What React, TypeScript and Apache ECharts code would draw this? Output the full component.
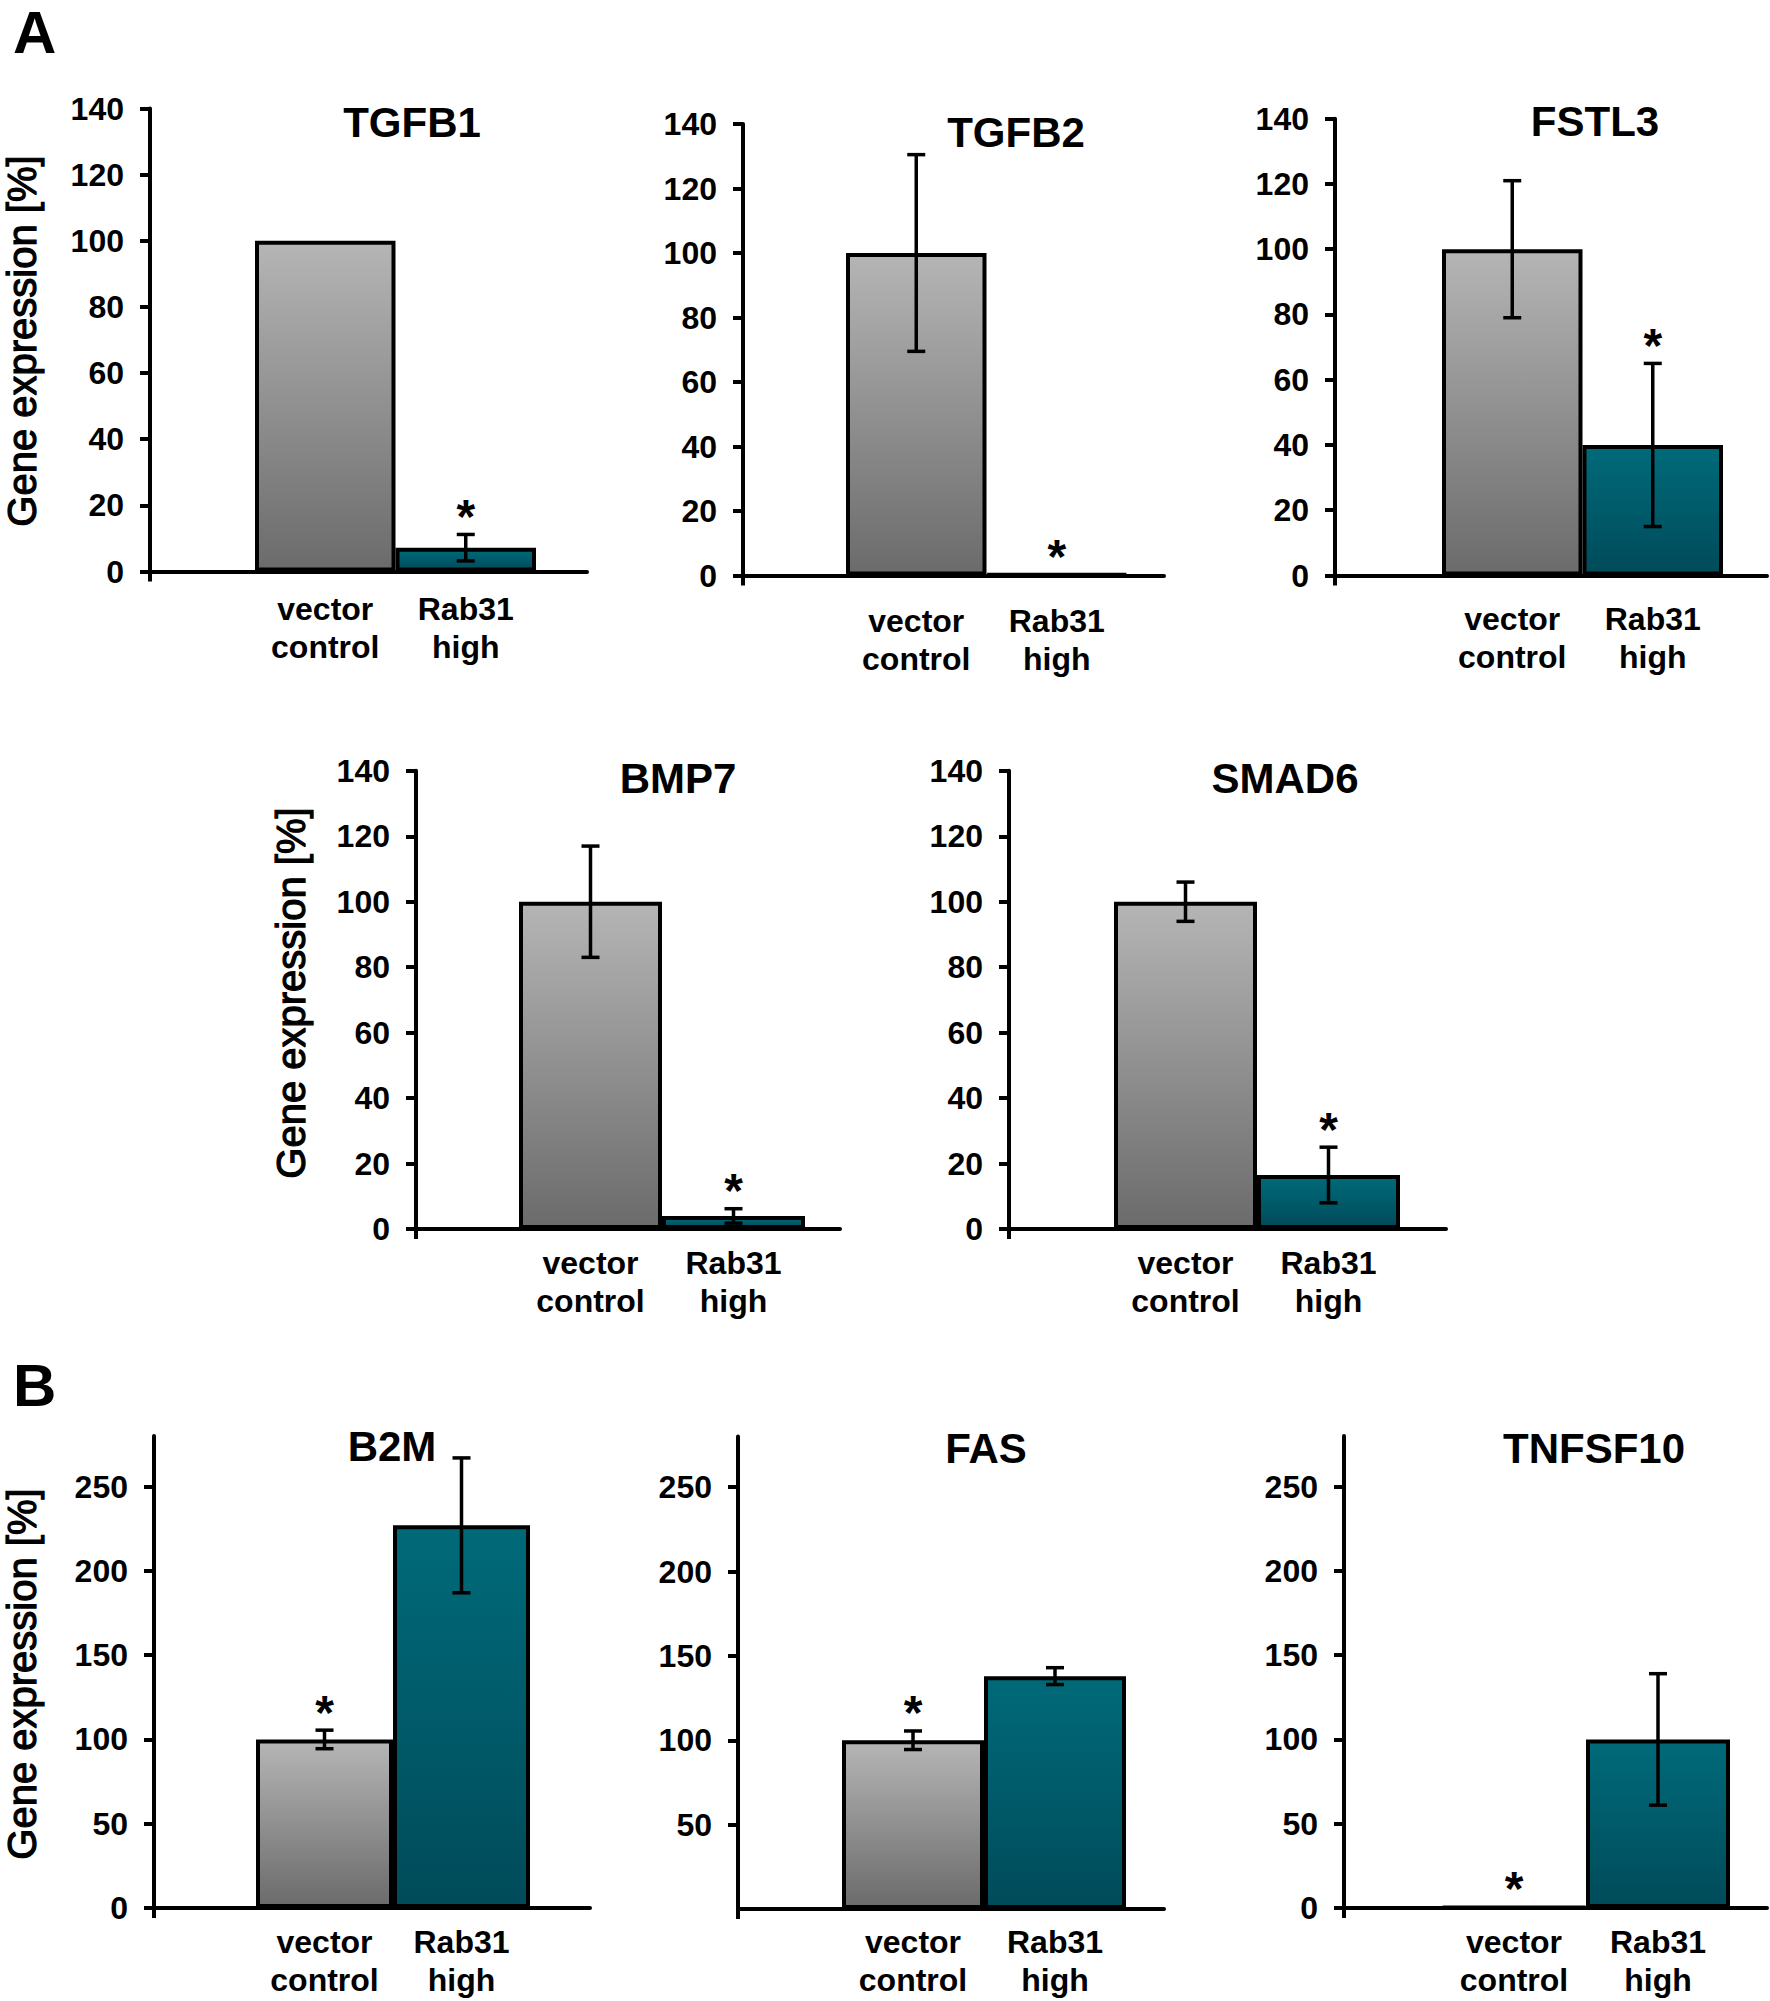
import React, { useEffect, useRef } from "react";
import * as echarts from "echarts";

// ---------- data ----------
const genes = ["TGFB1", "TGFB2", "FSTL3", "BMP7", "SMAD6", "B2M", "FAS", "TNFSF10"];
const categories = ["vector\ncontrol", "Rab31\nhigh"];
const vectorMeans = [100, 100, 100, 100, 100, 100, 100, 0.6];
const vectorErrors = [0, 30.5, 21, 17, 6, 5.5, 5.5, 0];
const rabMeans = [7.2, 0.4, 40, 4, 16.5, 227, 138, 100];
const rabErrors = [4, 0, 25, 2.2, 8.5, 40, 5, 39];
const starOnVector = [false, false, false, false, false, true, true, true];
const starOnRab = [true, true, true, true, true, false, false, false];
const ticksA = [0, 20, 40, 60, 80, 100, 120, 140];
const ticksB = [0, 50, 100, 150, 200, 250];
const ticksFAS = [50, 100, 150, 200, 250];
const panelTicks = [ticksA, ticksA, ticksA, ticksA, ticksA, ticksB, ticksFAS, ticksB];
const panelMax = [140, 140, 140, 140, 140, 280, 280, 280];
const yAxisName = "Gene expression [%]";

// ---------- layout (pixels) ----------
const W = 1770;
const H = 2001;
const layout = [
  { axisX: 150, barL: 255, barR: 536, xEnd: 587, yTop: 108.5, y0: 571.5, margin: 18, tx: 412, ty: 122 },
  { axisX: 743, barL: 846, barR: 1127, xEnd: 1164, yTop: 124, y0: 575.5, margin: 26, tx: 1016, ty: 132 },
  { axisX: 1335, barL: 1442, barR: 1723, xEnd: 1767, yTop: 118.7, y0: 575.5, margin: 24, tx: 1595, ty: 121 },
  { axisX: 416, barL: 519, barR: 805, xEnd: 840, yTop: 770.8, y0: 1229, margin: 15, tx: 678, ty: 778 },
  { axisX: 1009, barL: 1114, barR: 1400, xEnd: 1446, yTop: 770.8, y0: 1229, margin: 15, tx: 1285, ty: 778 },
  { axisX: 154, barL: 256, barR: 530, xEnd: 590, yTop: 1436, y0: 1908, margin: 15, tx: 392, ty: 1446 },
  { axisX: 738, barL: 842, barR: 1126, xEnd: 1164, yTop: 1436.5, y0: 1909, margin: 14, tx: 986, ty: 1448 },
  { axisX: 1344, barL: 1442, barR: 1730, xEnd: 1767, yTop: 1436, y0: 1908, margin: 15, tx: 1594, ty: 1448 },
];
const yNames = [
  { x: 22, y: 341 },
  { x: 291, y: 993 },
  { x: 22, y: 1674 },
];
const panelLetters = [
  { text: "A", x: 13, y: 32 },
  { text: "B", x: 13, y: 1385 },
];

const FONT = "'Liberation Sans', Arial, Helvetica, sans-serif";
const AXIS_W = 4;
const grayFill = () =>
  new echarts.graphic.LinearGradient(0, 0, 0, 1, [
    { offset: 0, color: "#b5b5b5" },
    { offset: 1, color: "#6b6b6b" },
  ]);
const tealFill = () =>
  new echarts.graphic.LinearGradient(0, 0, 0, 1, [
    { offset: 0, color: "#006a79" },
    { offset: 1, color: "#004b5a" },
  ]);

function buildOption() {
  const grid: any[] = [];
  const xAxis: any[] = [];
  const yAxis: any[] = [];
  const series: any[] = [];
  const graphic: any[] = [];

  genes.forEach((gene, i) => {
    const L = layout[i];
    const ticks = panelTicks[i];
    const max = panelMax[i];
    const interval = ticks[1] - ticks[0];
    const top = L.yTop;
    const bottom = H - L.y0;

    // axes grid
    const gA = grid.length;
    grid.push({ left: L.axisX, right: W - L.xEnd, top, bottom, containLabel: false });
    xAxis.push({
      gridIndex: gA,
      type: "category",
      data: ["", ""],
      boundaryGap: false,
      axisLine: { show: true, lineStyle: { color: "#000", width: AXIS_W } },
      axisTick: { show: true, length: 10, interval: (idx: number) => idx === 0, lineStyle: { color: "#000", width: AXIS_W } },
      axisLabel: { show: false },
      splitLine: { show: false },
    });
    yAxis.push({
      gridIndex: gA,
      type: "value",
      min: 0,
      max,
      interval,
      axisLine: { show: true, lineStyle: { color: "#000", width: AXIS_W } },
      axisTick: { show: true, length: 10, lineStyle: { color: "#000", width: AXIS_W }, customValues: ticks },
      axisLabel: {
        show: true,
        customValues: ticks,
        margin: 26,
        color: "#000",
        fontFamily: FONT,
        fontWeight: "bold",
        fontSize: 32,
        formatter: (v: number) => (ticks.indexOf(v) >= 0 ? String(v) : ""),
      },
      splitLine: { show: false },
    });

    // bars grid
    const gB = grid.length;
    grid.push({ left: L.barL, right: W - L.barR, top, bottom, containLabel: false });
    xAxis.push({
      gridIndex: gB,
      type: "category",
      data: categories,
      axisLine: { show: false },
      axisTick: { show: false },
      axisLabel: {
        show: true,
        interval: 0,
        margin: L.margin,
        color: "#000",
        fontFamily: FONT,
        fontWeight: "bold",
        fontSize: 32,
        lineHeight: 38,
      },
      splitLine: { show: false },
    });
    yAxis.push({
      gridIndex: gB,
      type: "value",
      min: 0,
      max,
      interval,
      show: false,
      splitLine: { show: false },
    });

    series.push({
      type: "bar",
      name: gene,
      xAxisIndex: gB,
      yAxisIndex: gB,
      barCategoryGap: "0%",
      data: [
        { value: vectorMeans[i], itemStyle: { color: grayFill(), borderColor: "#000", borderWidth: 4 } },
        { value: rabMeans[i], itemStyle: { color: tealFill(), borderColor: "#000", borderWidth: 4 } },
      ],
      z: 2,
    });

    series.push({
      type: "custom",
      name: gene + " error",
      xAxisIndex: gB,
      yAxisIndex: gB,
      encode: { x: 0, y: 1 },
      data: [
        [0, vectorMeans[i], vectorErrors[i], starOnVector[i] ? 1 : 0],
        [1, rabMeans[i], rabErrors[i], starOnRab[i] ? 1 : 0],
      ],
      z: 5,
      renderItem: (params: any, api: any) => {
        const cat = api.value(0);
        const mean = api.value(1);
        const err = api.value(2);
        const star = api.value(3);
        const pTop = api.coord([cat, mean + err]);
        const pBot = api.coord([cat, Math.max(0, mean - err)]);
        const cap = 9;
        const children: any[] = [];
        const ls = { stroke: "#000", lineWidth: 3.5 };
        if (err > 0) {
          children.push({ type: "line", shape: { x1: pTop[0], y1: pTop[1], x2: pBot[0], y2: pBot[1] }, style: ls });
          children.push({ type: "line", shape: { x1: pTop[0] - cap, y1: pTop[1], x2: pTop[0] + cap, y2: pTop[1] }, style: ls });
          children.push({ type: "line", shape: { x1: pBot[0] - cap, y1: pBot[1], x2: pBot[0] + cap, y2: pBot[1] }, style: ls });
        }
        if (star) {
          children.push({
            type: "text",
            style: {
              text: "*",
              x: pTop[0],
              y: pTop[1] + 6,
              textAlign: "center",
              textVerticalAlign: "bottom",
              font: `bold 48px ${FONT}`,
              fill: "#000",
            },
          });
        }
        return { type: "group", children };
      },
    });

    graphic.push({
      type: "text",
      style: {
        text: gene,
        x: L.tx,
        y: L.ty,
        textAlign: "center",
        textVerticalAlign: "middle",
        font: `bold 42px ${FONT}`,
        fill: "#000",
      },
    });
  });

  yNames.forEach((p) => {
    graphic.push({
      type: "text",
      x: p.x,
      y: p.y,
      rotation: Math.PI / 2,
      style: {
        text: yAxisName,
        x: 0,
        y: 0,
        textAlign: "center",
        textVerticalAlign: "middle",
        font: `40px ${FONT}`,
        fill: "#000",
        stroke: "#000",
        lineWidth: 1.2,
      },
    });
  });

  panelLetters.forEach((p) => {
    graphic.push({
      type: "text",
      style: {
        text: p.text,
        x: p.x,
        y: p.y,
        textAlign: "left",
        textVerticalAlign: "middle",
        font: `bold 60px ${FONT}`,
        fill: "#000",
      },
    });
  });

  return {
    animation: false,
    backgroundColor: "#ffffff",
    grid,
    xAxis,
    yAxis,
    series,
    graphic,
  };
}

export default function App() {
  const ref = useRef<HTMLDivElement>(null);
  useEffect(() => {
    if (!ref.current) return;
    const chart = echarts.init(ref.current, null, { renderer: "svg", width: W, height: H });
    chart.setOption(buildOption() as any);
    return () => {
      chart.dispose();
    };
  }, []);
  return (
    <div
      ref={ref}
      style={{ position: "absolute", left: 0, top: 0, width: W, height: H, background: "#fff" }}
    />
  );
}
